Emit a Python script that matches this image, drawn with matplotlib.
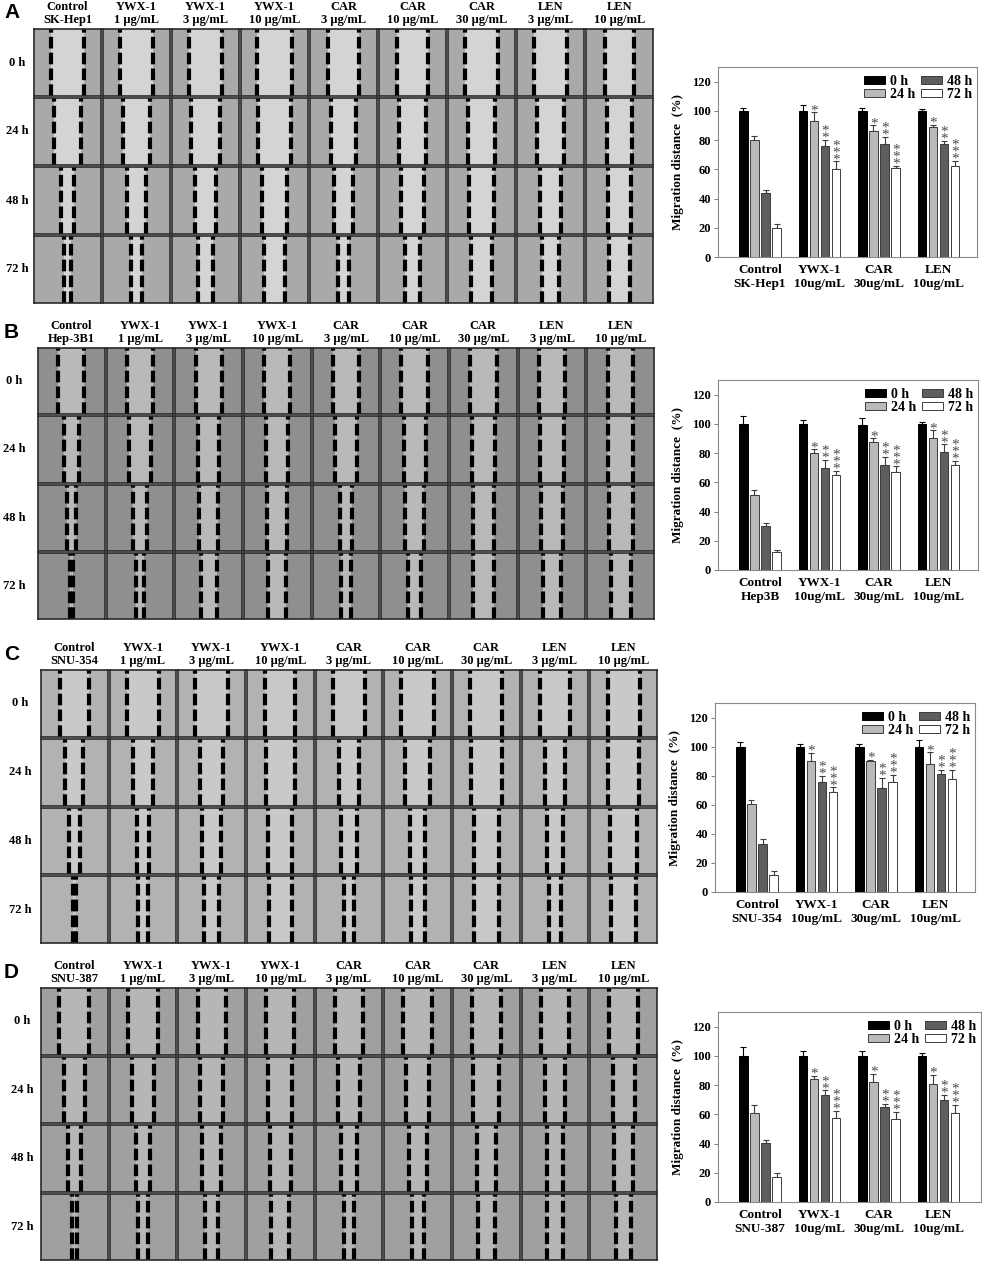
import matplotlib
matplotlib.use("Agg")
import matplotlib.pyplot as plt
import numpy as np

W, H = 982, 1264
SERIF = "Liberation Serif"
SANS = "Liberation Sans"

TIMES = ["0 h", "24 h", "48 h", "72 h"]
DRUGS = ["Control", "YWX-1", "YWX-1", "YWX-1", "CAR", "CAR", "CAR", "LEN", "LEN"]
DOSES = ["1 μg/mL", "3 μg/mL", "10 μg/mL", "3 μg/mL", "10 μg/mL",
         "30 μg/mL", "3 μg/mL", "10 μg/mL"]
BAR_GROUPS = ["Control", "YWX-1\n10ug/mL", "CAR\n30ug/mL", "LEN\n10ug/mL"]
STAR_COUNT = [0, 1, 2, 3]  # asterisks per time point on treated groups

PANELS = ["A", "B", "C", "D"]
HEADER_LINES = ["SK-Hep1", "Hep-3B1", "SNU-354", "SNU-387"]
BAR_LINES = ["SK-Hep1", "Hep3B", "SNU-354", "SNU-387"]

# migration distance (%), rows = groups, cols = 0/24/48/72 h
SKHEP1_MEAN = [[100, 80, 44, 20], [100, 93, 76, 60], [100, 86, 77, 61], [100, 89, 77, 62]]
SKHEP1_ERR = [[2, 3, 2, 2.5], [4, 6, 4, 5.5], [2, 4, 5, 1.5], [1.5, 1.5, 2.5, 4]]
HEP3B_MEAN = [[100, 51.5, 30, 12.5], [100, 80, 70, 65], [99.5, 87.5, 71.5, 67], [100, 90, 81, 72]]
HEP3B_ERR = [[5.5, 3.5, 2.5, 1], [2.5, 2.5, 5.5, 3], [4.5, 2.5, 6, 4], [1.5, 5.5, 5, 2.5]]
SNU354_MEAN = [[100, 60.5, 33, 12], [100, 90, 75.5, 69], [100, 90, 71.5, 76], [100, 88, 81, 78]]
SNU354_ERR = [[3, 3, 3.5, 2.5], [2, 5.5, 4.5, 3], [2, 1, 7, 4.5], [4.5, 8, 3, 6]]
SNU387_MEAN = [[100, 61, 40.5, 17], [100, 84, 73, 57.5], [100, 82, 65, 57], [100, 81, 69.5, 61]]
SNU387_ERR = [[6, 5.5, 2, 3], [3, 2.5, 3.5, 5], [3.5, 5.5, 2, 4.5], [2, 6, 4, 5.5]]

# wound gap width (fraction of the field), rows = time, cols = 9 conditions
SKHEP1_GAP = [[0.49, 0.50, 0.49, 0.53, 0.47, 0.47, 0.49, 0.48, 0.44],
              [0.39, 0.40, 0.43, 0.48, 0.37, 0.39, 0.41, 0.39, 0.38],
              [0.20, 0.29, 0.31, 0.37, 0.28, 0.33, 0.38, 0.31, 0.35],
              [0.09, 0.15, 0.21, 0.30, 0.16, 0.23, 0.30, 0.24, 0.30]]
HEP3B_GAP = [[0.39, 0.39, 0.39, 0.39, 0.40, 0.40, 0.40, 0.39, 0.38],
             [0.23, 0.32, 0.32, 0.33, 0.33, 0.33, 0.35, 0.36, 0.38],
             [0.14, 0.21, 0.29, 0.30, 0.18, 0.28, 0.32, 0.32, 0.36],
             [0.05, 0.12, 0.24, 0.27, 0.14, 0.19, 0.31, 0.26, 0.30]]
SNU354_GAP = [[0.44, 0.49, 0.49, 0.45, 0.48, 0.49, 0.48, 0.46, 0.48],
              [0.27, 0.29, 0.35, 0.43, 0.29, 0.38, 0.46, 0.29, 0.46],
              [0.16, 0.19, 0.29, 0.36, 0.23, 0.22, 0.37, 0.25, 0.40],
              [0.04, 0.14, 0.23, 0.35, 0.15, 0.21, 0.37, 0.18, 0.37]]
SNU387_GAP = [[0.45, 0.45, 0.42, 0.42, 0.43, 0.43, 0.44, 0.43, 0.43],
              [0.31, 0.33, 0.35, 0.36, 0.33, 0.34, 0.39, 0.31, 0.33],
              [0.19, 0.21, 0.28, 0.31, 0.23, 0.27, 0.29, 0.23, 0.28],
              [0.07, 0.14, 0.20, 0.27, 0.14, 0.18, 0.26, 0.24, 0.23]]

MEANS = [SKHEP1_MEAN, HEP3B_MEAN, SNU354_MEAN, SNU387_MEAN]
ERRS = [SKHEP1_ERR, HEP3B_ERR, SNU354_ERR, SNU387_ERR]
GAPS = [SKHEP1_GAP, HEP3B_GAP, SNU354_GAP, SNU387_GAP]

# layout in pixels: image grid (left, top, right, bottom), bar axes (left, top, right, bottom)
GRID_BOX = [(33, 28, 654, 304), (37, 347, 655, 620), (40, 669, 658, 944), (40, 987, 658, 1261)]
BAR_BOX = [(718, 67, 977, 257), (718, 380, 978, 570), (715, 703, 975, 892), (718, 1012, 981, 1202)]
ROW_LABEL_X = [17, 14, 20, 22]
CELL_SHADE = [("#a9a9a9", "#d4d4d4"), ("#8f8f8f", "#b9b9b9"),
              ("#b2b2b2", "#c9c9c9"), ("#a0a0a0", "#b6b6b6")]

BAR_COLORS = ["#000000", "#b9b9b9", "#5e5e5e", "#ffffff"]
BAR_W = 0.135
BAR_STEP = 0.185
GROUP_PX = 59.5
FIRST_GROUP_PX = 42


def rect(l, t, r, b):
    return [l / W, 1 - b / H, (r - l) / W, (b - t) / H]


def draw_grid(fig, k):
    l, t, r, b = GRID_BOX[k]
    px, py = (r - l) / 9, (b - t) / 4
    cell_col, wound_col = CELL_SHADE[k]
    for row in range(4):
        for col in range(9):
            x0, y0 = l + col * px + 1, t + row * py + 1
            ax = fig.add_axes(rect(x0, y0, x0 + px - 2, y0 + py - 2))
            ax.set_xlim(0, 1)
            ax.set_ylim(0, 1)
            ax.set_facecolor(cell_col)
            g = GAPS[k][row][col]
            ax.axvspan(0.5 - g / 2, 0.5 + g / 2, color=wound_col, lw=0)
            for xe in (0.5 - g / 2, 0.5 + g / 2):
                ax.axvline(xe, color="black", lw=3.0, ls=(0, (2.8, 1.0)))
            ax.set_xticks([])
            ax.set_yticks([])
            for s in ax.spines.values():
                s.set_color("#2a2a2a")
                s.set_linewidth(1.2)
        fig.text(ROW_LABEL_X[k] / W, 1 - (t + (row + 0.5) * py) / H, TIMES[row],
                 ha="center", va="center", fontsize=9, fontweight="bold", family=SERIF)
    line2 = [HEADER_LINES[k]] + DOSES
    for col in range(9):
        cx = (l + (col + 0.5) * px) / W
        fig.text(cx, 1 - (t - 21) / H, DRUGS[col], ha="center", va="center",
                 fontsize=9, fontweight="bold", family=SERIF)
        fig.text(cx, 1 - (t - 8) / H, line2[col], ha="center", va="center",
                 fontsize=9, fontweight="bold", family=SERIF)
    fig.text(4 / W, 1 - (t - 15) / H, PANELS[k], ha="left", va="center",
             fontsize=15, fontweight="bold", family=SANS)


def draw_bars(fig, k):
    l, t, r, b = BAR_BOX[k]
    ax = fig.add_axes(rect(l, t, r, b))
    x = np.arange(len(BAR_GROUPS))
    means, errs = MEANS[k], ERRS[k]
    handles = []
    for ti in range(4):
        pos = x + (ti - 1.5) * BAR_STEP
        vals = np.array([m[ti] for m in means])
        e = np.array([er[ti] for er in errs])
        edge = "black" if ti == 0 else "#3c3c3c"
        h = ax.bar(pos, vals, BAR_W, color=BAR_COLORS[ti], edgecolor=edge,
                   linewidth=0.7, label=TIMES[ti], zorder=3)
        handles.append(h)
        ax.errorbar(pos, vals, yerr=[np.zeros_like(e), e], fmt="none", ecolor=edge,
                    elinewidth=0.8, capsize=2.2, capthick=0.8, zorder=2)
        if STAR_COUNT[ti]:
            for g in range(1, len(BAR_GROUPS)):
                ax.annotate("\n".join(["*"] * STAR_COUNT[ti]), (pos[g], vals[g] + e[g]),
                            xytext=(0.3, -3.5), textcoords="offset points", ha="center",
                            va="bottom", fontsize=11, color="#4a4a4a", family=SERIF,
                            linespacing=0.4, zorder=4)
    x0 = -FIRST_GROUP_PX / GROUP_PX
    ax.set_xlim(x0, x0 + (r - l) / GROUP_PX)
    ax.set_ylim(0, 130)
    ax.set_yticks(range(0, 121, 20))
    ax.set_xticks(x)
    labels = [BAR_GROUPS[0] + "\n" + BAR_LINES[k]] + BAR_GROUPS[1:]
    ax.set_xticklabels(labels, fontsize=9.5, fontweight="bold", family=SERIF, linespacing=1.25)
    for lab in ax.get_yticklabels():
        lab.set_fontsize(9)
        lab.set_fontweight("bold")
        lab.set_family(SERIF)
    ax.tick_params(axis="x", length=0, pad=5)
    ax.tick_params(axis="y", length=3, width=0.7, color="#7f7f7f", pad=2)
    for s in ax.spines.values():
        s.set_color("#8a8a8a")
        s.set_linewidth(0.8)
    ax.set_ylabel("Migration distance  (%)", fontsize=9.5, fontweight="bold",
                  family=SERIF, labelpad=6)
    ax.legend(handles=handles, ncol=2, loc="upper right", bbox_to_anchor=(1.01, 1.0),
              frameon=False, handlelength=1.5, handleheight=0.5, handletextpad=0.35,
              columnspacing=0.45, labelspacing=0.05, borderaxespad=0.15,
              prop={"family": SERIF, "weight": "bold", "size": 10})


def main():
    fig = plt.figure(figsize=(W / 100, H / 100), dpi=100)
    for k in range(4):
        draw_grid(fig, k)
        draw_bars(fig, k)
    fig.savefig("out.png", dpi=100)
    plt.close(fig)


if __name__ == "__main__":
    main()
